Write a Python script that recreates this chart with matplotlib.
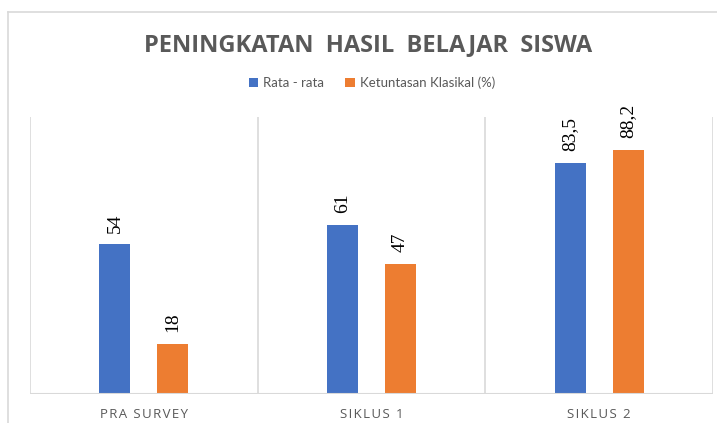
import matplotlib.pyplot as plt
from matplotlib.lines import Line2D
import numpy as np

categories = ['PRA SURVEY', 'SIKLUS 1', 'SIKLUS 2']
rata_rata = [54, 61, 83.5]
ketuntasan = [18, 47, 88.2]
label_rata = ['54', '61', '83,5']
label_ketuntasan = ['18', '47', '88,2']
series_names = ['Rata - rata', 'Ketuntasan Klasikal (%)']

BLUE = '#4472C4'
ORANGE = '#ED7D31'
GREY = '#595959'
LINE = '#D9D9D9'


def spaced(s, sep='\u200a'):
    # tiru jarak antar huruf ala Excel
    return sep.join(s)


fig = plt.figure(figsize=(7.17, 4.23), dpi=100)
ax = fig.add_axes([30 / 717, 1 - 394 / 423, 683 / 717, 277 / 423])

# bingkai luar chart
fig.add_artist(Line2D([8 / 717, 8 / 717], [0, 1 - 12 / 423], color=LINE, lw=1.2))
fig.add_artist(Line2D([8 / 717, 1], [1 - 12 / 423, 1 - 12 / 423], color=LINE, lw=1.2))

x = np.arange(len(categories))
w = 0.136
off = 0.127
b1 = ax.bar(x - off, rata_rata, w, color=BLUE, label=series_names[0], zorder=3)
b2 = ax.bar(x + off, ketuntasan, w, color=ORANGE, label=series_names[1], zorder=3)

for bars, labels in ((b1, label_rata), (b2, label_ketuntasan)):
    for r, t in zip(bars, labels):
        ax.annotate(t, (r.get_x() + r.get_width() / 2, r.get_height()),
                    xytext=(0, 8.5), textcoords='offset points', rotation=90,
                    ha='center', va='bottom', fontsize=14,
                    family='Liberation Serif', color='black')

ax.set_xlim(-0.5, 2.5)
ax.set_ylim(0, 100)
for s in ax.spines.values():
    s.set_visible(False)
for b in [-0.5, 0.5, 1.5, 2.5]:
    ax.axvline(b, color=LINE, lw=1.2, zorder=1)
ax.axhline(0, color=LINE, lw=1.5, zorder=4)

ax.set_yticks([])
ax.set_xticks(x)
ax.set_xticklabels([spaced(c) for c in categories], fontsize=9.5, color=GREY,
                   family=['Open Sans', 'DejaVu Sans'])
ax.tick_params(axis='x', length=0, pad=10)

fig.text(368 / 717, 1 - 45 / 423, 'PENINGKATAN  HASIL  BELAJAR  SISWA',
         ha='center', va='center', fontsize=17, fontweight='bold',
         color=GREY, family='Open Sans')

leg = fig.legend(handles=[b1, b2], loc='center', bbox_to_anchor=(372 / 717, 1 - 83 / 423),
                 ncol=2, frameon=False, prop={'family': 'Lato', 'size': 9.5},
                 handlelength=0.7, handleheight=0.7,
                 handletextpad=0.4, columnspacing=1.6)
for t in leg.get_texts():
    t.set_color(GREY)

fig.savefig('out.png', dpi=100)
